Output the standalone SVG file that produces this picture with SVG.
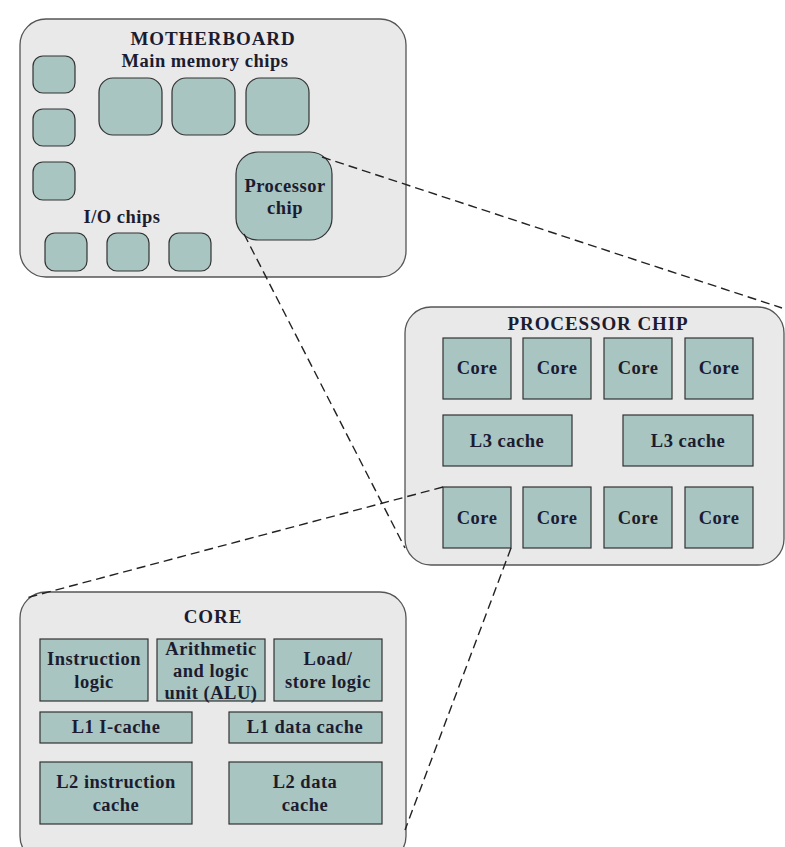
<svg xmlns="http://www.w3.org/2000/svg" width="785" height="847" viewBox="0 0 785 847">
<style>
.panel{fill:#e9e9e9;stroke:#555;stroke-width:1.3}
.chip{fill:#a8c5c1;stroke:#333;stroke-width:1.2}
.t{font-family:"Liberation Serif","Times New Roman",serif;font-weight:bold;fill:#1c1c30;text-anchor:middle;letter-spacing:0.5px}
.h{font-size:19px;letter-spacing:0.9px}
.s{font-size:18.5px}
.dash{fill:none;stroke:#222;stroke-width:1.4;stroke-dasharray:9 5}
</style>
<rect width="785" height="847" fill="#fff"/>
<g id="motherboard">
<rect class="panel" x="20" y="19" width="386" height="258" rx="26"/>
<text class="t h" x="213" y="45">MOTHERBOARD</text>
<text class="t s" x="205" y="67">Main memory chips</text>
<rect class="chip" x="33" y="56" width="42" height="37" rx="10"/>
<rect class="chip" x="33" y="109" width="42" height="37" rx="10"/>
<rect class="chip" x="33" y="162" width="42" height="38" rx="10"/>
<rect class="chip" x="99" y="78" width="63" height="57" rx="14"/>
<rect class="chip" x="172" y="78" width="63" height="57" rx="14"/>
<rect class="chip" x="246" y="78" width="63" height="57" rx="14"/>
<text class="t s" x="122" y="223">I/O chips</text>
<rect class="chip" x="45" y="233" width="42" height="38" rx="10"/>
<rect class="chip" x="107" y="233" width="42" height="38" rx="10"/>
<rect class="chip" x="169" y="233" width="42" height="38" rx="10"/>
</g>
<g id="processor_chip_small">
<rect class="chip" x="236" y="152" width="96" height="88" rx="22"/>
<text class="t s" x="285" y="192">Processor</text>
<text class="t s" x="285" y="214">chip</text>
</g>
<g id="processor_chip">
<rect class="panel" x="405" y="307" width="379" height="258" rx="26"/>
<text class="t h" x="598" y="330">PROCESSOR CHIP</text>
<rect class="chip" x="443" y="338" width="68" height="61"/>
<rect class="chip" x="523" y="338" width="68" height="61"/>
<rect class="chip" x="604" y="338" width="68" height="61"/>
<rect class="chip" x="685" y="338" width="68" height="61"/>
<text class="t s" x="477" y="374">Core</text>
<text class="t s" x="557" y="374">Core</text>
<text class="t s" x="638" y="374">Core</text>
<text class="t s" x="719" y="374">Core</text>
<rect class="chip" x="443" y="415" width="129" height="51"/>
<rect class="chip" x="623" y="415" width="130" height="51"/>
<text class="t s" x="507" y="447">L3 cache</text>
<text class="t s" x="688" y="447">L3 cache</text>
<rect class="chip" x="443" y="487" width="68" height="61"/>
<rect class="chip" x="523" y="487" width="68" height="61"/>
<rect class="chip" x="604" y="487" width="68" height="61"/>
<rect class="chip" x="685" y="487" width="68" height="61"/>
<text class="t s" x="477" y="524">Core</text>
<text class="t s" x="557" y="524">Core</text>
<text class="t s" x="638" y="524">Core</text>
<text class="t s" x="719" y="524">Core</text>
</g>
<g id="core">
<rect class="panel" x="20" y="592" width="386" height="270" rx="26"/>
<text class="t h" x="213" y="623">CORE</text>
<rect class="chip" x="40" y="639" width="108" height="62"/>
<rect class="chip" x="157" y="639" width="108" height="62"/>
<rect class="chip" x="274" y="639" width="108" height="62"/>
<text class="t s" x="94" y="665">Instruction</text>
<text class="t s" x="94" y="688">logic</text>
<text class="t s" x="211" y="655">Arithmetic</text>
<text class="t s" x="211" y="677">and logic</text>
<text class="t s" x="211" y="699">unit (ALU)</text>
<text class="t s" x="328" y="665">Load/</text>
<text class="t s" x="328" y="688">store logic</text>
<rect class="chip" x="40" y="712" width="152" height="31"/>
<rect class="chip" x="229" y="712" width="153" height="31"/>
<text class="t s" x="116" y="733">L1 I-cache</text>
<text class="t s" x="305" y="733">L1 data cache</text>
<rect class="chip" x="40" y="762" width="152" height="62"/>
<rect class="chip" x="229" y="762" width="153" height="62"/>
<text class="t s" x="116" y="788">L2 instruction</text>
<text class="t s" x="116" y="811">cache</text>
<text class="t s" x="305" y="788">L2 data</text>
<text class="t s" x="305" y="811">cache</text>
</g>
<g id="connectors">
<line class="dash" x1="322" y1="157" x2="782" y2="308"/>
<line class="dash" x1="244" y1="234" x2="405" y2="548"/>
<line class="dash" x1="443" y1="487" x2="26" y2="598"/>
<line class="dash" x1="511" y1="548" x2="405" y2="830"/>
</g>
</svg>
